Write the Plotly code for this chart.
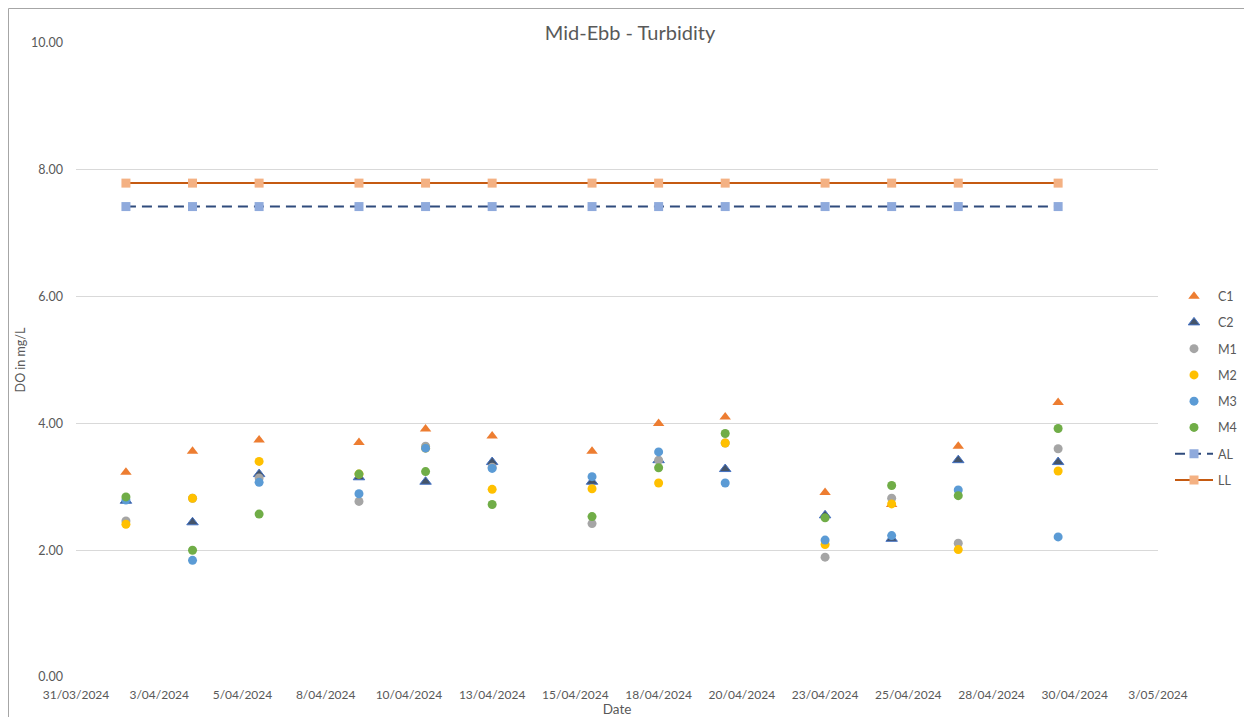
import plotly.graph_objects as go
from datetime import datetime, timedelta

# ---- data ----
dates = ["2024-04-01 12:00", "2024-04-03 12:00", "2024-04-05 12:00", "2024-04-08 12:00",
         "2024-04-10 12:00", "2024-04-12 12:00", "2024-04-15 12:00", "2024-04-17 12:00",
         "2024-04-19 12:00", "2024-04-22 12:00", "2024-04-24 12:00", "2024-04-26 12:00",
         "2024-04-29 12:00"]
C1 = [3.23, 3.56, 3.74, 3.70, 3.91, 3.80, 3.56, 4.00, 4.10, 2.91, 2.72, 3.64, 4.33]
C2 = [2.78, 2.44, 3.20, 3.15, 3.08, 3.39, 3.08, 3.42, 3.28, 2.55, 2.18, 3.42, 3.39]
M1 = [2.46, 2.82, 3.14, 2.77, 3.64, 3.31, 2.42, 3.42, 3.69, 1.89, 2.82, 2.11, 3.60]
M2 = [2.41, 2.82, 3.40, 3.20, 3.61, 2.96, 2.97, 3.06, 3.69, 2.09, 2.73, 2.01, 3.25]
M3 = [2.79, 1.84, 3.07, 2.89, 3.61, 3.29, 3.16, 3.55, 3.06, 2.16, 2.23, 2.95, 2.21]
M4 = [2.84, 2.00, 2.57, 3.20, 3.24, 2.72, 2.53, 3.30, 3.84, 2.51, 3.02, 2.86, 3.92]
AL = [7.42] * 13
LL = [7.79] * 13

x_start = "2024-03-31"
x_end = "2024-05-02 12:00"
tick_step_days = 2.5
tick_labels = ["31/03/2024", "3/04/2024", "5/04/2024", "8/04/2024", "10/04/2024",
               "13/04/2024", "15/04/2024", "18/04/2024", "20/04/2024", "23/04/2024",
               "25/04/2024", "28/04/2024", "30/04/2024", "3/05/2024"]
y_ticks = [0, 2, 4, 6, 8, 10]

t0 = datetime.strptime(x_start, "%Y-%m-%d")
tick_vals = [(t0 + timedelta(days=tick_step_days * k)).strftime("%Y-%m-%d %H:%M:%S")
             for k in range(len(tick_labels))]

FONT = "Lato"
TXT = "#595959"

fig = go.Figure()

def scatter(name, y, symbol, color, size, line_color=None):
    fig.add_trace(go.Scatter(
        x=dates, y=y, name=name, mode="markers", legendgroup=name,
        marker=dict(symbol=symbol, size=size, color=color,
                    line=dict(color=line_color or color, width=1 if line_color else 0)),
    ))

scatter("C1", C1, "triangle-up", "#ED7D31", 10)
scatter("C2", C2, "triangle-up", "#44546A", 10, "#4472C4")
scatter("M1", M1, "circle", "#A5A5A5", 9)
scatter("M2", M2, "circle", "#FFC000", 9)
scatter("M3", M3, "circle", "#5B9BD5", 9)
scatter("M4", M4, "circle", "#70AD47", 9)

fig.add_trace(go.Scatter(
    x=dates, y=AL, name="AL", mode="lines+markers", legendgroup="AL",
    line=dict(color="#2F4B7C", width=2, dash="10px,6px"),
    marker=dict(symbol="square", size=9, color="#8FAADC"),
))
fig.add_trace(go.Scatter(
    x=dates, y=LL, name="LL", mode="lines+markers", legendgroup="LL",
    line=dict(color="#C55A11", width=2),
    marker=dict(symbol="square", size=9, color="#F4B183"),
))

# the page body adds an 8px margin on every side, so the figure is 16px smaller
OFF = 8
W, H = 1252 - 2 * OFF, 725 - 2 * OFF
L, T = 76 - OFF, 43 - OFF
pw, ph = 1082, 634
R, B = W - L - pw, H - T - ph

fig.update_layout(
    width=W, height=H,
    margin=dict(l=L, r=R, t=T, b=B, autoexpand=False),
    paper_bgcolor="white", plot_bgcolor="white",
    font=dict(family=FONT, size=12, color=TXT),
    title=dict(text="Mid-Ebb - Turbidity", x=(630 - OFF) / W, xanchor="center",
               y=1 - (33 - OFF) / H, yanchor="middle", yref="container",
               font=dict(family=FONT, size=20, color=TXT)),
    xaxis=dict(type="date", range=[x_start, x_end], tickmode="array",
               tickvals=tick_vals, ticktext=tick_labels, showgrid=False,
               zeroline=False, showline=False, ticks="", ticklabelstandoff=9,
               automargin=False,
               tickfont=dict(size=12, color=TXT),
               title=dict(text="Date", font=dict(size=13.5, color=TXT), standoff=6)),
    yaxis=dict(range=[0, 10], tickmode="array", tickvals=y_ticks, tickformat=".2f",
               showgrid=True, gridcolor="#D9D9D9", gridwidth=1, zeroline=False,
               showline=False, ticks="", ticklabelstandoff=12, automargin=False,
               tickfont=dict(size=12.5, color=TXT),
               title=dict(text="DO in mg/L", font=dict(size=12.5, color=TXT), standoff=2)),
    legend=dict(x=(1170 - OFF - L) / pw, xanchor="left",
                y=0.5 - 28 / ph, yanchor="middle", itemwidth=38,
                font=dict(size=12.5, color=TXT), tracegroupgap=7,
                bgcolor="rgba(0,0,0,0)"),
    showlegend=True,
)

# outer chart border (left and top edges are the visible ones)
bx = (0.5 - L) / pw
by = 1 + (T - 0.5) / ph
fig.add_shape(type="line", xref="paper", yref="paper", x0=bx, x1=bx,
              y0=-B / ph, y1=by, line=dict(color="#A6A6A6", width=1), layer="below")
fig.add_shape(type="line", xref="paper", yref="paper", x0=bx, x1=(W - L) / pw,
              y0=by, y1=by, line=dict(color="#A6A6A6", width=1), layer="below")

fig.write_html("out.html")
